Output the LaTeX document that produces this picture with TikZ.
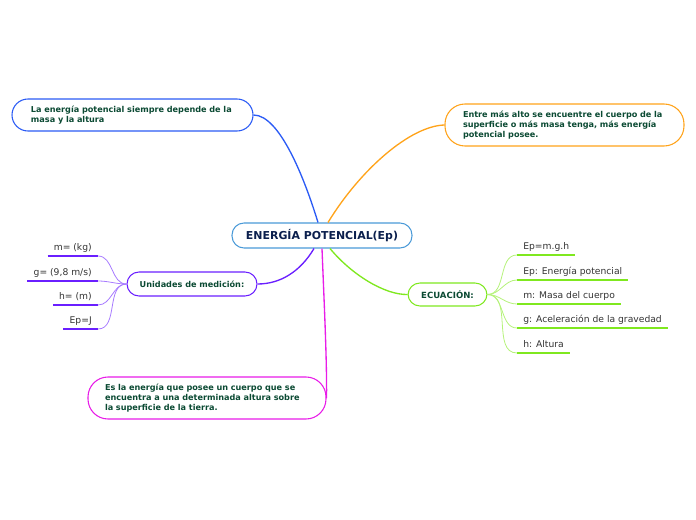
\documentclass[tikz,border=0pt]{standalone}
\usepackage{fontspec}
\setmainfont{DejaVu Sans}
\usetikzlibrary{positioning, calc}

\definecolor{azul}{HTML}{2B5BF5}
\definecolor{celeste}{HTML}{4A9AD8}
\definecolor{naranja}{HTML}{FFA31A}
\definecolor{morado}{HTML}{6A1FFF}
\definecolor{moradoclaro}{HTML}{A77BFF}
\definecolor{verde}{HTML}{7FE81F}
\definecolor{verdeclaro}{HTML}{B5F27A}
\definecolor{magenta}{HTML}{E81CE8}
\definecolor{textoverde}{HTML}{0B4A33}
\definecolor{textoazul}{HTML}{0B1F4D}
\definecolor{gris}{HTML}{333333}

\begin{document}
\begin{tikzpicture}[
  x=0.75pt, y=-0.75pt,
  caja/.style={draw, line width=0.8pt, fill=white, font=\fontsize{6.1}{7.3}\selectfont\bfseries,
               text=textoverde, inner sep=0pt},
  nota/.style={caja, align=left},
  rama/.style={line width=1pt},
  hoja/.style={font=\fontsize{6.9}{8}\selectfont, text=gris, inner xsep=4.5pt,
               inner ysep=2.5pt, text height=5pt, text depth=1.5pt},
  raya/.style={line width=1.5pt},
  fina/.style={line width=0.6pt}
]
\useasboundingbox (0,0) rectangle (696,520);

% tema central
\node[caja, draw=celeste, rounded corners=9pt, minimum width=180*0.75pt, minimum height=25*0.75pt,
      font=\fontsize{8.2}{9}\selectfont\bfseries, text=textoazul] (centro) at (322,235.5)
  {ENERGÍA POTENCIAL(Ep)};

% notas grandes
\node[nota, draw=azul, rounded corners=12pt, minimum width=241*0.75pt, minimum height=32*0.75pt,
      text width=203*0.75pt] (altura) at (132.5,115)
  {La energía potencial siempre depende de la\\masa y la altura};
\node[nota, draw=naranja, rounded corners=15pt, minimum width=239*0.75pt, minimum height=42*0.75pt,
      text width=203*0.75pt] (posee) at (564.5,125)
  {Entre más alto se encuentre el cuerpo de la\\superficie o más masa tenga, más energía\\potencial posee.};
\node[nota, draw=magenta, rounded corners=15pt, minimum width=238*0.75pt, minimum height=42*0.75pt,
      text width=204*0.75pt] (definicion) at (207,398)
  {Es la energía que posee un cuerpo que se\\encuentra a una determinada altura sobre\\la superficie de la tierra.};

% subtemas
\node[caja, draw=morado, rounded corners=9pt, minimum width=130*0.75pt, minimum height=24*0.75pt]
  (unidades) at (192,284) {Unidades de medición:};
\node[caja, draw=verde, rounded corners=9pt, minimum width=79*0.75pt, minimum height=23*0.75pt,
      font=\fontsize{6.4}{7.3}\selectfont\bfseries]
  (ecuacion) at (447.5,294.5) {ECUACIÓN:};

% ramas
\draw[rama, azul] ($(centro.north)+(-4,0)$) .. controls (305,180) and (280,115) .. (altura.east);
\draw[rama, naranja] ($(centro.north)+(6,0)$) .. controls (360,170) and (410,126) .. (posee.west);
\draw[rama, morado] ($(centro.south)+(-8,0)$) .. controls (300,272) and (280,284) .. (unidades.east);
\draw[rama, verde] ($(centro.south)+(8,0)$) .. controls (352,275) and (385,295) .. (ecuacion.west);
\draw[rama, magenta] (centro.south) .. controls (324,300) and (327,360) .. (definicion.east);

% unidades
\foreach \nom/\txt/\y in {um/{m= (kg)}/256, ug/{g= (9,8 m/s)}/281, uh/{h= (m)}/305, ue/{Ep=J}/329} {
  \node[hoja, anchor=south east] (\nom) at (98,\y) {\txt};
  \draw[raya, morado] (\nom.south west) -- (\nom.south east);
  \draw[fina, moradoclaro] (unidades.west) to[out=180, in=0] (\nom.south east);
}

% ecuacion
\foreach \nom/\txt/\y in {e1/{Ep=m.g.h}/255, e2/{Ep: Energía potencial}/280, e3/{m: Masa del cuerpo}/304,
                          e4/{g: Aceleración de la gravedad}/328, e5/{h: Altura}/353} {
  \node[hoja, anchor=south west] (\nom) at (517,\y) {\txt};
  \draw[raya, verde] (\nom.south west) -- (\nom.south east);
  \draw[fina, verdeclaro] (ecuacion.east) to[out=0, in=180] (\nom.south west);
}
\end{tikzpicture}
\end{document}
